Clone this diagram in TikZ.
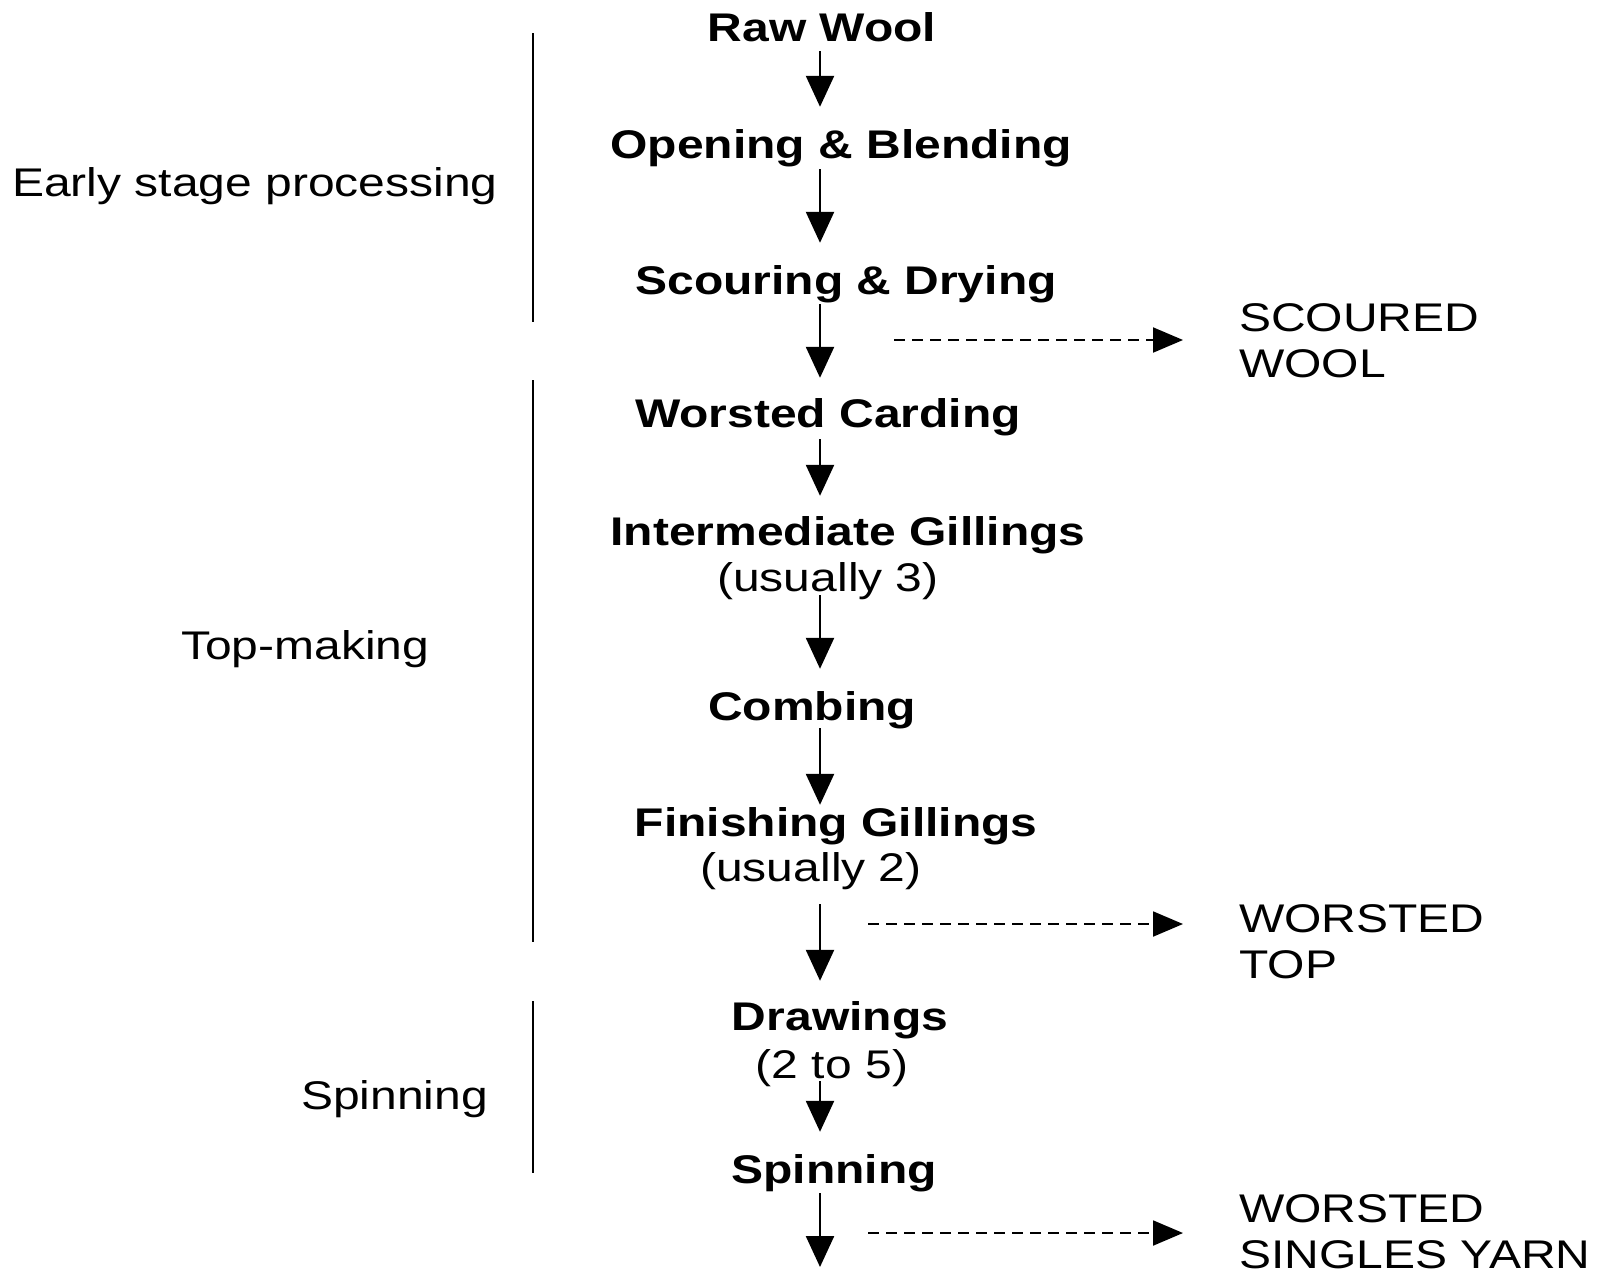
\documentclass[tikz,border=0pt]{standalone}
\usepackage{fontspec}
\setmainfont[FakeStretch=1.2]{Liberation Sans}
\usetikzlibrary{arrows.meta}
\begin{document}
\begin{tikzpicture}[x=1pt,y=-1pt,
  every node/.style={inner sep=0pt,font=\fontsize{40}{46}\selectfont},
  stage/.style={anchor=base,font=\fontsize{40}{46}\selectfont\bfseries,text height=29pt,text depth=9pt},
  note/.style={anchor=base,text height=29pt,text depth=9pt},
  product/.style={align=left,anchor=west},
  phase/.style={anchor=base west},
  flow/.style={line width=2.4pt,-{Triangle[length=31pt,width=28pt]}},
  side/.style={line width=2pt,dashed,dash pattern=on 11pt off 7pt,-{Triangle[length=30pt,width=25pt]}},
  bar/.style={line width=2pt}]
\useasboundingbox (0,0) rectangle (1602,1269);
\coordinate (spine) at (820,0);

% process stages
\node[stage] (raw)   at (822,41)  {Raw Wool};
\node[stage] (open)  at (841,158) {Opening \& Blending};
\node[stage] (scour) at (846,294) {Scouring \& Drying};
\node[stage] (card)  at (828,427) {Worsted Carding};
\node[stage] (inter) at (848,545) {Intermediate Gillings};
\node[note]  (intern) at (828,591) {(usually 3)};
\node[stage] (comb)  at (812,720) {Combing};
\node[stage] (fin)   at (836,836) {Finishing Gillings};
\node[note]  (finn)  at (811,881) {(usually 2)};
\node[stage] (draw)  at (840,1030) {Drawings};
\node[note]  (drawn) at (832,1078) {(2 to 5)};
\node[stage] (spin)  at (834,1183) {Spinning};
\coordinate (out) at (820,1267);

% main flow
\draw[flow, shorten <=1pt, shorten >=22pt] (raw.south -| spine) -- (open.north -| spine);
\draw[flow, shorten <=2pt, shorten >=22pt] (open.south -| spine) -- (scour.north -| spine);
\draw[flow, shorten <=1pt, shorten >=20pt] (scour.south -| spine) -- (card.north -| spine);
\draw[flow, shorten <=3pt, shorten >=20pt] (card.south -| spine) -- (inter.north -| spine);
\draw[flow, shorten <=-5pt, shorten >=22pt] (intern.south -| spine) -- (comb.north -| spine);
\draw[flow, shorten <=-1pt, shorten >=2pt] (comb.south -| spine) -- (fin.north -| spine);
\draw[flow, shorten <=14pt, shorten >=20pt] (finn.south -| spine) -- (draw.north -| spine);
\draw[flow, shorten <=-6pt, shorten >=22pt] (drawn.south -| spine) -- (spin.north -| spine);
\draw[flow, shorten <=1pt] (spin.south -| spine) -- (out);

% products taken off the line
\node[product] (scoured) at (1239,341) {SCOURED\\WOOL};
\node[product] (top)     at (1239,942) {WORSTED\\TOP};
\node[product] (yarn)    at (1239,1232) {WORSTED\\SINGLES YARN};
\coordinate (d1) at (894,340);
\coordinate (d2) at (868,924);
\coordinate (d3) at (868,1233);
\draw[side, shorten >=56pt] (d1) -- (d1 -| scoured.west);
\draw[side, shorten >=56pt] (d2) -- (d2 -| top.west);
\draw[side, shorten >=56pt] (d3) -- (d3 -| yarn.west);

% phase brackets
\draw[bar] (533,33) -- (533,322);
\draw[bar] (533,380) -- (533,942);
\draw[bar] (533,1001) -- (533,1173);
\node[phase] (early) at (12,196)  {Early stage processing};
\node[phase] (tops)  at (181,659) {Top-making};
\node[phase] (spinp) at (301,1109) {Spinning};
\end{tikzpicture}
\end{document}
